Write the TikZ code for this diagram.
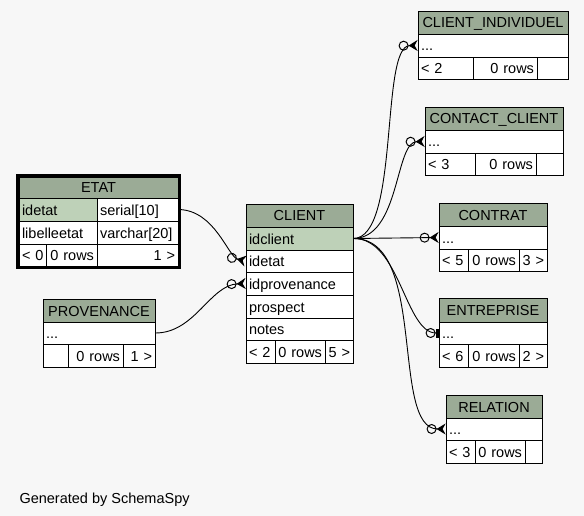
\documentclass[tikz,border=0pt]{standalone}
\usepackage{fontspec}
\setmainfont{Liberation Sans}
\usetikzlibrary{arrows.meta}

\definecolor{headgreen}{HTML}{9BAB96}
\definecolor{keygreen}{HTML}{BED1B8}
\definecolor{pagegray}{HTML}{F7F7F7}

% one table cell: [style] name x1 y1 x2 y2 text
\newcommand{\tcell}[7][]{%
	\pgfmathsetmacro{\cellw}{#5-#3-6}%
	\pgfmathsetmacro{\cellh}{#6-#4}%
	\node[cell,#1,text width=\cellw pt,minimum height=\cellh pt] (#2) at ({(#3+#5)/2},{(#4+#6)/2}) {#7};}

\begin{document}
\begin{tikzpicture}[x=1pt,y=-1pt,
	cell/.style={draw=black,line width=0.8pt,fill=white,inner xsep=3pt,inner ysep=0pt,
		text height=12pt,text depth=1pt,align=left,font=\fontsize{14.5}{17}\selectfont},
	head/.style={fill=headgreen,align=center},
	key/.style={fill=keygreen},
	num/.style={align=right},
	fk/.style={line width=0.9pt,-{Circle[open,length=10pt,width=10pt,line width=1pt]Stealth[reversed,length=9pt,width=11pt,inset=3pt]}},
	fkone/.style={line width=0.9pt,-{Circle[open,length=10pt,width=10pt,line width=1pt]Rectangle[length=3pt,width=9pt]}}]
					
	\fill[pagegray] (0,0) rectangle (584,516);
	\useasboundingbox (0,0) rectangle (584,516);
					
	\tcell[head]{etat}{19}{177}{178}{198}{ETAT}
	\tcell[key]{etat-idetat}{19}{198}{97}{221}{idetat}
	\tcell{etat-idetat-t}{97}{198}{178}{221}{serial[10]}
	\tcell{etat-lib}{19}{221}{97}{244}{libelleetat}
	\tcell{etat-lib-t}{97}{221}{178}{244}{varchar[20]}
	\tcell{etat-par}{19}{244}{46}{266}{<~0}
	\tcell[num]{etat-rows}{46}{244}{97}{266}{0 rows}
	\tcell[num]{etat-chi}{97}{244}{178}{266}{1~>}
	\draw[line width=3pt] (17.5,175.5) rectangle (179.5,267.5);
					
	\tcell[head]{prov}{43}{299}{155}{322}{PROVENANCE}
	\tcell{prov-row}{43}{322}{155}{344}{...}
	\tcell{prov-par}{43}{344}{68}{367}{}
	\tcell[num]{prov-rows}{68}{344}{123}{367}{0 rows}
	\tcell[num]{prov-chi}{123}{344}{155}{367}{1~>}
					
	\tcell[head]{client}{246}{204}{353}{227}{CLIENT}
	\tcell[key]{client-idclient}{246}{227}{353}{250}{idclient}
	\tcell{client-idetat}{246}{250}{353}{272}{idetat}
	\tcell{client-idprov}{246}{272}{353}{295}{idprovenance}
	\tcell{client-prospect}{246}{295}{353}{318}{prospect}
	\tcell{client-notes}{246}{318}{353}{340}{notes}
	\tcell{client-par}{246}{340}{275}{363}{<~2}
	\tcell[num]{client-rows}{275}{340}{325}{363}{0 rows}
	\tcell[num]{client-chi}{325}{340}{353}{363}{5~>}
					
	\tcell[head]{cind}{418}{11}{568}{34}{CLIENT\_INDIVIDUEL}
	\tcell{cind-row}{418}{34}{568}{57}{...}
	\tcell{cind-par}{418}{57}{473}{79}{<~2}
	\tcell[num]{cind-rows}{473}{57}{537}{79}{0 rows}
	\tcell{cind-chi}{537}{57}{568}{79}{}
					
	\tcell[head]{cc}{425}{107}{563}{130}{CONTACT\_CLIENT}
	\tcell{cc-row}{425}{130}{563}{153}{...}
	\tcell{cc-par}{425}{153}{475}{175}{<~3}
	\tcell[num]{cc-rows}{475}{153}{536}{175}{0 rows}
	\tcell{cc-chi}{536}{153}{563}{175}{}
					
	\tcell[head]{contrat}{439}{203}{547}{226}{CONTRAT}
	\tcell{contrat-row}{439}{226}{547}{249}{...}
	\tcell{contrat-par}{439}{249}{468}{271}{<~5}
	\tcell[num]{contrat-rows}{468}{249}{519}{271}{0 rows}
	\tcell[num]{contrat-chi}{519}{249}{547}{271}{3~>}
					
	\tcell[head]{entr}{439}{298}{547}{322}{ENTREPRISE}
	\tcell{entr-row}{439}{322}{547}{344}{...}
	\tcell{entr-par}{439}{344}{468}{367}{<~6}
	\tcell[num]{entr-rows}{468}{344}{519}{367}{0 rows}
	\tcell[num]{entr-chi}{519}{344}{547}{367}{2~>}
					
	\tcell[head]{rel}{446}{395}{542}{418}{RELATION}
	\tcell{rel-row}{446}{418}{542}{440}{...}
	\tcell{rel-par}{446}{440}{475}{463}{<~3}
	\tcell[num]{rel-rows}{475}{440}{525}{463}{0 rows}
	\tcell{rel-chi}{525}{440}{542}{463}{}
					
	\draw[fk] (etat-idetat-t.east) .. controls (215,210) and (228,257) .. (client-idetat.west);
	\draw[fk] (prov-row.east) .. controls (195,333) and (210,285) .. (client-idprov.west);
	\draw[fk] (client-idclient.east) .. controls (400,238) and (380,46) .. (cind-row.west);
	\draw[fk] (client-idclient.east) .. controls (400,238) and (395,142) .. (cc-row.west);
	\draw[fk] (client-idclient.east) -- (contrat-row.west);
	\draw[fkone] (client-idclient.east) .. controls (400,238) and (405,333) .. (entr-row.west);
	\draw[fk] (client-idclient.east) .. controls (428,238) and (390,429) .. (rel-row.west);
					
	\node[anchor=base west,font=\fontsize{14.5}{17}\selectfont] (gen) at (16,503) {Generated by SchemaSpy};
					
\end{tikzpicture}
\end{document}
